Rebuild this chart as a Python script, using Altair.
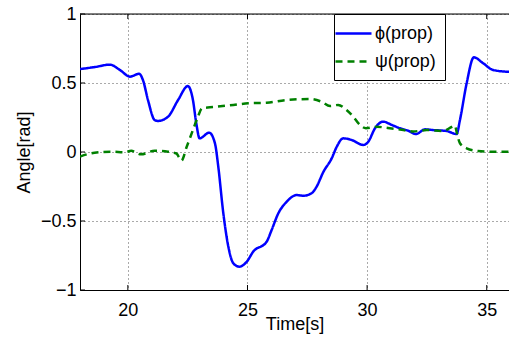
import altair as alt
import pandas as pd

# ---- data ----
phi_t = [18.00, 18.63, 19.25, 19.67, 20.09, 20.47, 20.63, 20.84, 21.12, 21.26, 21.68, 22.10,
         22.51, 22.72, 22.86, 23.00, 23.40, 23.64, 23.78, 23.99, 24.20, 24.41, 24.66, 24.97,
         25.24, 25.80, 26.01, 26.29, 26.64, 27.06, 27.33, 27.68, 27.89, 28.17, 28.52, 28.73,
         29.00, 29.35, 29.84, 30.05, 30.33, 30.67, 31.03, 31.37, 31.72, 32.04, 32.42, 32.76,
         33.32, 33.74, 33.88, 34.16, 34.46, 34.85, 35.27, 36.00]
phi_v = [0.601, 0.616, 0.633, 0.594, 0.546, 0.567, 0.522, 0.377, 0.232, 0.225, 0.256, 0.377,
         0.478, 0.377, 0.208, 0.099, 0.140, 0.063, -0.107, -0.444, -0.686, -0.807, -0.831, -0.795,
         -0.722, -0.650, -0.565, -0.444, -0.360, -0.312, -0.317, -0.299, -0.251, -0.145, -0.046, 0.038,
         0.099, 0.087, 0.051, 0.075, 0.172, 0.220, 0.196, 0.172, 0.154, 0.130, 0.164, 0.159,
         0.152, 0.130, 0.232, 0.498, 0.686, 0.643, 0.594, 0.580]

psi_t = [18.00, 18.61, 19.30, 19.88, 20.14, 20.55, 21.12, 21.68, 22.03, 22.24, 22.46, 22.72,
         22.93, 23.10, 23.60, 24.41, 25.03, 25.80, 26.64, 27.61, 28.10, 28.45, 28.79, 29.14,
         29.42, 29.70, 29.95, 30.40, 30.87, 31.37, 31.93, 32.49, 33.18, 33.53, 33.67, 33.75,
         33.88, 34.16, 34.63, 35.13, 36.00]
psi_v = [-0.033, -0.005, 0.002, -0.002, 0.009, -0.017, 0.009, 0.002, -0.011, -0.062, 0.038, 0.159,
         0.256, 0.317, 0.326, 0.341, 0.353, 0.357, 0.377, 0.384, 0.364, 0.333, 0.341, 0.304,
         0.256, 0.196, 0.172, 0.183, 0.174, 0.163, 0.149, 0.159, 0.152, 0.181, 0.191, 0.138,
         0.063, 0.027, 0.007, 0.002, 0.002]

series_names = ["ϕ(prop)", "ψ(prop)"]
series_colors = ["#0000ff", "#008000"]
series_dashes = [[1, 0], [7, 5]]

x_ticks = [20, 25, 30, 35]
y_ticks = [-1, -0.5, 0, 0.5, 1]
x_domain = [18, 35.93]
y_domain = [-1, 1]

FONT = "Liberation Sans"

df = pd.concat([
    pd.DataFrame({"t": phi_t, "v": phi_v, "s": series_names[0]}),
    pd.DataFrame({"t": psi_t, "v": psi_v, "s": series_names[1]}),
], ignore_index=True)

xs = alt.Scale(domain=x_domain, nice=False, zero=False)
ys = alt.Scale(domain=y_domain, nice=False, zero=False)

x_axis = alt.Axis(values=x_ticks, title="Time[s]", grid=True, ticks=False, tickSize=0,
                  labelPadding=11, labelFontSize=18, titleFontSize=18, titleFontWeight="normal",
                  titleBaseline="middle", titleY=34, domainColor="black", labelColor="black",
                  titleColor="black", gridColor="#555555", gridDash=[1, 3], gridWidth=1,
                  labelFont=FONT, titleFont=FONT)
y_axis = alt.Axis(values=y_ticks, title="Angle[rad]", format="~g", grid=True, ticks=False,
                  tickSize=0, labelPadding=4, labelFontSize=18, titleFontSize=18,
                  titleFontWeight="normal", titleBaseline="middle", titleX=-56, titleY=138,
                  domainColor="black", labelColor="black", titleColor="black",
                  gridColor="#555555", gridDash=[1, 3], gridWidth=1,
                  labelFont=FONT, titleFont=FONT)

# wide horizontal path symbol: length 4*r, r = sqrt(size)/2 -> 36 px line with 18 px entry height
legend = alt.Legend(title=None, orient="none", legendX=254, legendY=0,
                    symbolType="M-2,0H2", symbolSize=324, symbolStrokeWidth=2.5,
                    labelFontSize=18, labelFont=FONT, labelColor="black", labelOffset=11,
                    strokeColor="black", fillColor="white", padding=9, rowPadding=8)

lines = alt.Chart(df).mark_line(strokeWidth=2.5, interpolate="monotone", clip=True).encode(
    x=alt.X("t:Q", scale=xs, axis=x_axis),
    y=alt.Y("v:Q", scale=ys, axis=y_axis),
    color=alt.Color("s:N", scale=alt.Scale(domain=series_names, range=series_colors), legend=legend),
    strokeDash=alt.StrokeDash("s:N", scale=alt.Scale(domain=series_names, range=series_dashes), legend=legend),
    order=alt.Order("t:Q"),
)

# top border
top = alt.Chart(pd.DataFrame({"v": [1]})).mark_rule(color="black", strokeWidth=1).encode(
    y=alt.Y("v:Q", scale=ys))

# inward ticks
xt = pd.DataFrame({"t": x_ticks})
yt = pd.DataFrame({"v": y_ticks})
bt = alt.Chart(xt).mark_rule(color="black").encode(
    x=alt.X("t:Q", scale=xs), y=alt.value(276), y2=alt.value(271))
tt = alt.Chart(xt).mark_rule(color="black").encode(
    x=alt.X("t:Q", scale=xs), y=alt.value(0), y2=alt.value(5))
lt = alt.Chart(yt).mark_rule(color="black").encode(
    y=alt.Y("v:Q", scale=ys), x=alt.value(0), x2=alt.value(5))

chart = alt.layer(bt, tt, lt, top, lines).properties(
    width=429, height=276,
    autosize=alt.AutoSizeParams(type="none"),
    padding={"left": 80, "top": 14, "right": 0, "bottom": 48},
).configure_view(stroke=None).configure(font=FONT)

chart.save("out.html", embed_options={"renderer": "svg", "actions": False})
